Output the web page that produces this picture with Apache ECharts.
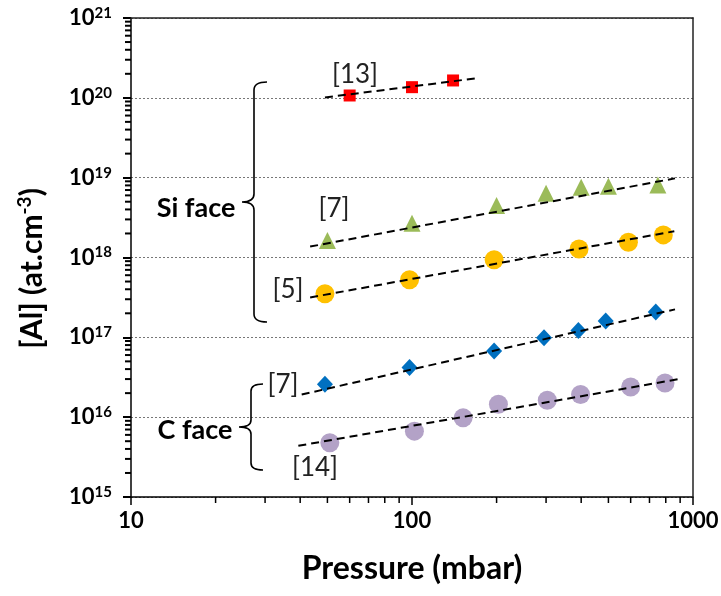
<!DOCTYPE html>
<html><head><meta charset="utf-8">
<script src="https://cdn.jsdelivr.net/npm/echarts@6/dist/echarts.min.js"></script>
<style>html,body{margin:0;padding:0;background:#fff}#c{width:721px;height:596px}</style>
</head><body><div id="c"></div>
<script>
// ---- data ----
const si13X = [60, 100, 140];
const si13Y = [1.07e20, 1.36e20, 1.65e20];
const si13FitX = [49, 170];
const si13FitY = [1.01e20, 1.76e20];

const si7X = [50, 100, 200, 300, 400, 500, 750];
const si7Y = [1.63e18, 2.68e18, 4.47e18, 6.36e18, 7.56e18, 7.79e18, 8.1e18];
const si7FitX = [43.4, 863];
const si7FitY = [1.37e18, 9.8e18];

const si5X = [49, 98, 196, 393, 589, 784];
const si5Y = [3.52e17, 5.26e17, 9.36e17, 1.28e18, 1.55e18, 1.92e18];
const si5FitX = [43.4, 858];
const si5FitY = [3.16e17, 2.13e18];

const c7X = [49, 98, 196, 295, 391, 489, 737];
const c7Y = [2.58e16, 4.18e16, 6.74e16, 9.91e16, 1.22e17, 1.6e17, 2.07e17];
const c7FitX = [40.5, 863];
const c7FitY = [1.92e16, 2.24e17];

const c14X = [51, 102, 152, 203, 303, 398, 600, 795];
const c14Y = [4.77e15, 6.68e15, 9.8e15, 1.45e16, 1.63e16, 1.92e16, 2.39e16, 2.68e16];
const c14FitX = [39.4, 887];
const c14FitY = [4.38e15, 2.99e16];

const xMin = 10, xMax = 1000, yMin = 1e15, yMax = 1e21;
const xMinorTicks = [20,30,40,50,60,70,80,90,200,300,400,500,600,700,800,900];
const yMinorMult = [2,3,4,5,6,7,8,9];
const yDecades = [1e15,1e16,1e17,1e18,1e19,1e20];

// ---- build ----
const zip = (a, b) => a.map((v, i) => [v, b[i]]);
const yMinorTicks = [];
yDecades.forEach(d => yMinorMult.forEach(m => yMinorTicks.push(m * d)));

const FONT = 'Lato';
function scatter(name, xs, ys, symbol, size, color) {
  return { name, type: 'scatter', data: zip(xs, ys), symbol, symbolSize: size,
    itemStyle: { color, opacity: 1 }, z: 3, silent: true };
}
function fit(xs, ys) {
  return { type: 'line', data: zip(xs, ys), symbol: 'none', z: 4, silent: true,
    lineStyle: { color: '#000', width: 2, type: [8, 5] } };
}
const braceSi = 'M267 82 Q254 82 254 90 L254 194 Q254 202 242 202 Q254 202 254 210 L254 314 Q254 322 267 322';
const braceC = 'M263 384 Q251 384 251 391 L251 420 Q251 427 239 427 Q251 427 251 434 L251 463 Q251 470 263 470';

const chart = echarts.init(document.getElementById('c'));
chart.setOption({
  animation: false,
  backgroundColor: '#fff',
  grid: { left: 131, right: 28, top: 18, bottom: 99, containLabel: false, outerBoundsMode: 'none' },
  xAxis: [{
    type: 'log', logBase: 10, min: xMin, max: xMax, splitNumber: 2,
    axisLine: { lineStyle: { color: '#000', width: 1.5 } },
    axisTick: { length: 8, lineStyle: { color: '#000', width: 1.5 } },
    splitLine: { show: false },
    axisLabel: { fontFamily: FONT, fontWeight: 'bold', fontSize: 22, color: '#000', margin: 13,
      formatter: v => String(Math.round(v)) },
    name: 'Pressure (mbar)', nameLocation: 'middle', nameGap: 56,
    nameTextStyle: { fontFamily: FONT, fontWeight: 'bold', fontSize: 32, color: '#000' }
  }, {
    type: 'log', position: 'top', min: xMin, max: xMax, z: 10,
    axisLine: { show: true, lineStyle: { color: '#222', width: 1.5 } },
    axisTick: { show: false }, axisLabel: { show: false }, splitLine: { show: false }
  }],
  yAxis: [{
    type: 'log', logBase: 10, min: yMin, max: yMax, splitNumber: 6,
    axisLine: { lineStyle: { color: '#000', width: 1.5 } },
    axisTick: { length: 8, lineStyle: { color: '#000', width: 2 } },
    splitLine: { show: true, lineStyle: { color: '#777', width: 1, type: [2, 2] } },
    axisLabel: { margin: 19, color: '#000',
      formatter: v => '{b|10}{s|' + Math.round(Math.log10(v)) + '}',
      rich: {
        b: { fontFamily: FONT, fontWeight: 'bold', fontSize: 22, color: '#000' },
        s: { fontFamily: FONT, fontWeight: 'bold', fontSize: 15, color: '#000', padding: [0, 0, 10, 0] }
      } },
    name: '[Al] (at.cm{s|-3})', nameLocation: 'middle', nameGap: 82, nameRotate: 90,
    nameTextStyle: { fontFamily: FONT, fontWeight: 'bold', fontSize: 30, color: '#000', padding: [0, 22, 0, 0],
      rich: { s: { fontFamily: FONT, fontWeight: 'bold', fontSize: 19, color: '#000', padding: [0, 0, 15, 0] } } }
  }, {
    type: 'log', position: 'right', min: yMin, max: yMax, z: 10,
    axisLine: { show: true, lineStyle: { color: '#222', width: 1.5 } },
    axisTick: { show: false }, axisLabel: { show: false }, splitLine: { show: false }
  }],
  series: [
    scatter('[14]', c14X, c14Y, 'circle', 19, '#B3A2C7'),
    scatter('[7] C', c7X, c7Y, 'diamond', [16, 17], '#0070C0'),
    scatter('[5]', si5X, si5Y, 'circle', 19, '#FFC000'),
    scatter('[7] Si', si7X, si7Y, 'triangle', [17, 17], '#9BBB59'),
    scatter('[13]', si13X, si13Y, 'rect', 12, '#FF0000'),
    fit(c14FitX, c14FitY), fit(c7FitX, c7FitY), fit(si5FitX, si5FitY),
    fit(si7FitX, si7FitY), fit(si13FitX, si13FitY),
    { type: 'custom', silent: true, clip: false, z: 5,
      data: [[xMin, yMin]],
      renderItem: () => ({ type: 'group', children: [
        { type: 'path', shape: { pathData: braceSi }, style: { fill: null, stroke: '#000', lineWidth: 1.6 } },
        { type: 'path', shape: { pathData: braceC }, style: { fill: null, stroke: '#000', lineWidth: 1.6 } }
      ] }) }
  ]
});

// minor ticks positioned through the chart's own log scales
const toPx = (x, y) => chart.convertToPixel({ xAxisIndex: 0, yAxisIndex: 0 }, [x, y]);
const minorTicks = [];
yMinorTicks.forEach(v => {
  const p = toPx(xMin, v);
  minorTicks.push({ type: 'line', z: 50, silent: true,
    shape: { x1: p[0] - 6, y1: p[1], x2: p[0], y2: p[1] }, style: { stroke: '#000', lineWidth: 2 } });
});
xMinorTicks.forEach(v => {
  const p = toPx(v, yMin);
  minorTicks.push({ type: 'line', z: 50, silent: true,
    shape: { x1: p[0], y1: p[1], x2: p[0], y2: p[1] + 6 }, style: { stroke: '#000', lineWidth: 1.5 } });
});
const txt = (x, y, text, size, bold, fill) => ({ type: 'text', x, y, z: 50, silent: true,
  style: { text, fontFamily: FONT, fontWeight: bold ? 'bold' : 'normal', fontSize: size, fill,
    align: 'center', verticalAlign: 'middle' } });

chart.setOption({
  graphic: minorTicks.concat([
    txt(196, 208, 'Si face', 27, true, '#000'),
    txt(195, 430, 'C face', 27, true, '#000'),
    txt(355, 75, '[13]', 26, false, '#222'),
    txt(334, 209, '[7]', 26, false, '#222'),
    txt(288, 290, '[5]', 26, false, '#222'),
    txt(283, 385, '[7]', 26, false, '#222'),
    txt(315, 468, '[14]', 26, false, '#222')
  ])
});
</script></body></html>
